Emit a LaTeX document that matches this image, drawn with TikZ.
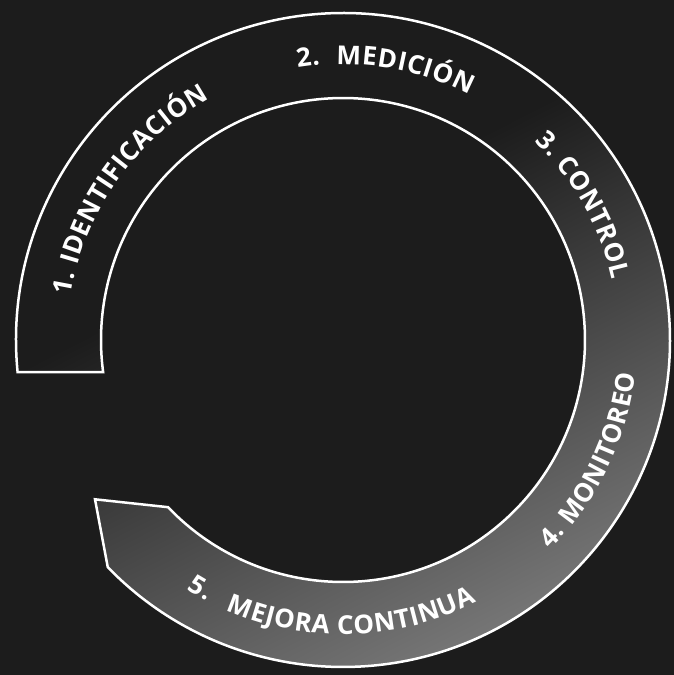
\documentclass[tikz,border=0pt]{standalone}
\usepackage{fontspec}
\newfontfamily\labelfam{Open Sans}
\usetikzlibrary{decorations.text}
\definecolor{board}{HTML}{1C1C1C}
\definecolor{ringlight}{HTML}{787878}
\newcommand\lblfont{\labelfam\bfseries\fontsize{26pt}{26pt}\selectfont}
\tikzset{
  ringline/.style={draw=white, line width=2.5pt, line join=miter},
  arclabel/.style={decorate, decoration={text effects along path, text align=center,
      text={#1}, text effects/.cd, text along path,
      characters={text=white, font=\lblfont, inner xsep=0pt, anchor=base},
      character widths={font=\lblfont, inner xsep=0.3pt}}},
}
\begin{document}
\begin{tikzpicture}[x=1pt,y=1pt]
  % board background, centre of the ring at the origin
  \path[use as bounding box, fill=board] (-343,-335) rectangle (331,340);
  \coordinate (tip) at (-248,-159.3);

  % gradient fill of the ring band
  \begin{scope}
    \clip (185.62:327) arc[start angle=185.62, end angle=-136, radius=327]
      -- (tip) -- (-136.3:242) arc[start angle=-136.3, end angle=187.6, radius=242] -- cycle;
    \begin{scope}[transform canvas={rotate=27}]
      \shade[top color=board, bottom color=ringlight] (-420,-340) rectangle (420,120);
    \end{scope}
  \end{scope}

  % white outline of the band
  \path[ringline] (185.62:327) arc[start angle=185.62, end angle=-136, radius=327]
    -- (tip) -- (-136.3:242) arc[start angle=-136.3, end angle=187.6, radius=242] -- cycle;

  % labels running clockwise (letters point outwards)
  \path[arclabel={1. IDENTIFICACIÓN}] (194.8:275.7) arc[start angle=194.8, end angle=94.8, radius=275.7];
  \path[arclabel={2.}] (127.1:275.7) arc[start angle=127.1, end angle=67.1, radius=275.7];
  \path[arclabel={MEDICIÓN}] (127.0:275.7) arc[start angle=127.0, end angle=27.0, radius=275.7];
  \path[arclabel={3. CONTROL}] (79.3:275.7) arc[start angle=79.3, end angle=-20.7, radius=275.7];

  % labels running counter-clockwise (letters point inwards)
  \path[arclabel={4. MONITOREO}] (-75.9:294.3) arc[start angle=-75.9, end angle=24.1, radius=294.3];
  \path[arclabel={5.}] (-169.8:294.3) arc[start angle=-169.8, end angle=-69.8, radius=294.3];
  \path[arclabel={MEJORA CONTINUA}] (-138.2:294.3) arc[start angle=-138.2, end angle=-38.2, radius=294.3];
\end{tikzpicture}
\end{document}
